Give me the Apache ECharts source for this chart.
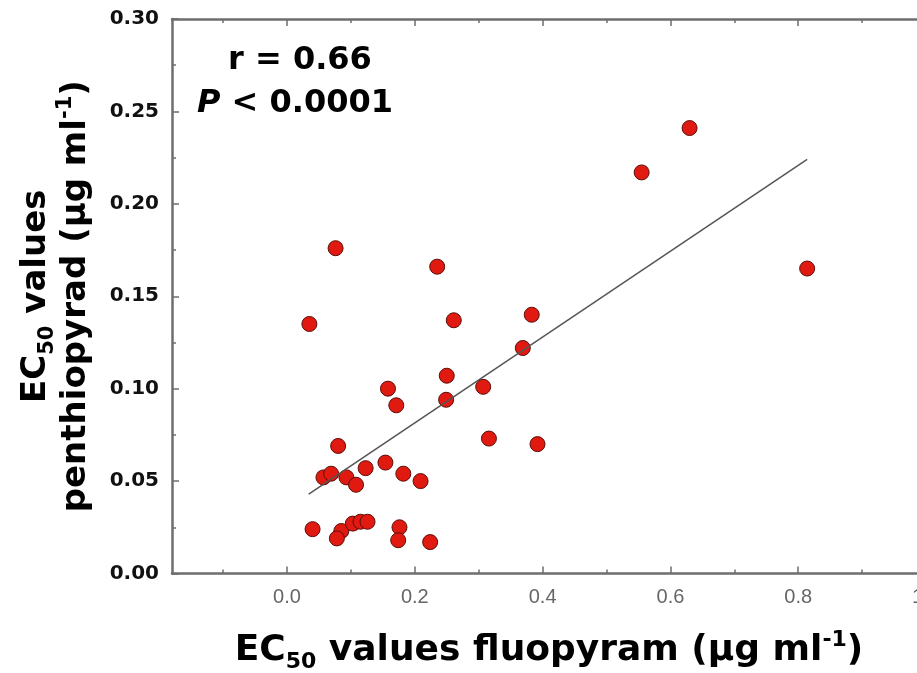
<!DOCTYPE html>
<html>
<head>
<meta charset="utf-8">
<script src="https://cdn.jsdelivr.net/npm/echarts@6/dist/echarts.min.js"></script>
<style>
  html, body { margin: 0; padding: 0; background: #fff; }
  #chart { width: 917px; height: 673px; }
</style>
</head>
<body>
<div id="chart"></div>
<script>
// EC50 values (fluopyram on x, penthiopyrad on y)
const fluopyram = [
  0.076, 0.235, 0.035, 0.261, 0.383, 0.369, 0.250, 0.158, 0.171, 0.307,
  0.249, 0.316, 0.392, 0.080, 0.154, 0.123, 0.057, 0.069, 0.093, 0.108,
  0.182, 0.209, 0.040, 0.085, 0.078, 0.103, 0.115, 0.126, 0.176, 0.174,
  0.224, 0.555, 0.630, 0.814
];
const penthiopyrad = [
  0.176, 0.166, 0.135, 0.137, 0.140, 0.122, 0.107, 0.100, 0.091, 0.101,
  0.094, 0.073, 0.070, 0.069, 0.060, 0.057, 0.052, 0.054, 0.052, 0.048,
  0.054, 0.050, 0.024, 0.023, 0.019, 0.027, 0.028, 0.028, 0.025, 0.018,
  0.017, 0.217, 0.241, 0.165
];
// regression line end points
const fitX = [0.034, 0.814];
const fitY = [0.043, 0.224];

const xMajorTicks = [0, 0.2, 0.4, 0.6, 0.8, 1.0];
const xMinorTicks = [-0.1, 0.1, 0.3, 0.5, 0.7, 0.9];

const points = fluopyram.map((x, i) => [x, penthiopyrad[i]]);
const fitLine = fitX.map((x, i) => [x, fitY[i]]);

const chart = echarts.init(document.getElementById("chart"));

const axisLine = { show: true, onZero: false, lineStyle: { color: "#6e6e6e", width: 2.5 } };
const tickStyle = { color: "#6e6e6e", width: 1.5 };
const boldFont = "DejaVu Sans";

const option = {
  backgroundColor: "#fff",
  animation: false,
  grid: {
    left: 172, right: -9, top: 19, bottom: 99.5,
    containLabel: false, outerBoundsMode: "none"
  },
  xAxis: [
    {
      type: "value", position: "bottom", min: -0.18, max: 1.0,
      axisLine: axisLine,
      axisTick: { show: true, inside: true, length: 7, lineStyle: tickStyle, customValues: xMajorTicks },
      axisLabel: {
        customValues: xMajorTicks, margin: 14,
        formatter: (v) => v.toFixed(1),
        color: "#666", fontSize: 20, fontFamily: "Liberation Sans"
      },
      splitLine: { show: false },
      name: "{b|EC}{sub|50}{b| values fluopyram (µg ml}{sup|-1}{b|)}",
      nameLocation: "middle", nameGap: 54,
      nameTextStyle: {
        rich: {
          b: { fontSize: 36, fontWeight: "bold", fontFamily: boldFont, color: "#000" },
          sub: { fontSize: 22, fontWeight: "bold", fontFamily: boldFont, color: "#000", padding: [24, 0, 0, 0] },
          sup: { fontSize: 22, fontWeight: "bold", fontFamily: boldFont, color: "#000", padding: [0, 0, 20, 0] }
        }
      }
    },
    {
      type: "value", position: "bottom", min: -0.18, max: 1.0,
      axisLine: { show: false, onZero: false },
      axisTick: { show: true, inside: true, length: 4, lineStyle: tickStyle, customValues: xMinorTicks },
      axisLabel: { show: false },
      splitLine: { show: false }
    },
    {
      type: "value", position: "top", min: -0.18, max: 1.0,
      axisLine: axisLine,
      axisTick: { show: true, inside: true, length: 7, lineStyle: tickStyle, customValues: xMajorTicks },
      axisLabel: { show: false },
      splitLine: { show: false }
    },
    {
      type: "value", position: "top", min: -0.18, max: 1.0,
      axisLine: { show: false, onZero: false },
      axisTick: { show: true, inside: true, length: 4, lineStyle: tickStyle, customValues: xMinorTicks },
      axisLabel: { show: false },
      splitLine: { show: false }
    }
  ],
  yAxis: [
    {
      type: "value", position: "left", min: 0, max: 0.3, interval: 0.05,
      axisLine: axisLine,
      axisTick: { show: true, inside: true, length: 7, lineStyle: tickStyle },
      minorTick: { show: true, splitNumber: 2, length: 4, lineStyle: tickStyle },
      axisLabel: {
        margin: 13, formatter: (v) => v.toFixed(2),
        color: "#111", fontSize: 20, fontWeight: "bold", fontFamily: boldFont
      },
      splitLine: { show: false },
      name: "{b|EC}{sub|50}{b| values}\n{b|penthiopyrad (µg ml}{sup|-1}{b|)}",
      nameLocation: "middle", nameGap: 76,
      nameTextStyle: {
        lineHeight: 40,
        rich: {
          b: { fontSize: 34, fontWeight: "bold", fontFamily: boldFont, color: "#000", lineHeight: 40 },
          sub: { fontSize: 21, fontWeight: "bold", fontFamily: boldFont, color: "#000", padding: [24, 0, 0, 0] },
          sup: { fontSize: 21, fontWeight: "bold", fontFamily: boldFont, color: "#000", padding: [0, 0, 20, 0] }
        }
      }
    },
    {
      type: "value", position: "right", min: 0, max: 0.3, interval: 0.05,
      axisLine: axisLine,
      axisTick: { show: true, inside: true, length: 7, lineStyle: tickStyle },
      minorTick: { show: true, splitNumber: 2, length: 4, lineStyle: tickStyle },
      axisLabel: { show: false },
      splitLine: { show: false }
    }
  ],
  graphic: [
    {
      type: "text", left: 228, top: 45,
      style: { text: "r = 0.66", font: "bold 32px 'DejaVu Sans'", fill: "#000" }
    },
    {
      type: "text", left: 197, top: 88,
      style: {
        text: "{i|P}{n| < 0.0001}",
        rich: {
          i: { font: "italic bold 32px 'DejaVu Sans'", fill: "#000" },
          n: { font: "bold 32px 'DejaVu Sans'", fill: "#000" }
        }
      }
    }
  ],
  series: [
    {
      type: "scatter",
      data: points,
      symbolSize: 15,
      itemStyle: { color: "#e01a10", borderColor: "#5c0d08", borderWidth: 1, opacity: 1 },
      z: 2
    },
    {
      type: "line",
      data: fitLine,
      showSymbol: false,
      symbol: "none",
      lineStyle: { color: "#555", width: 1.5 },
      z: 3
    }
  ]
};

chart.setOption(option);
</script>
</body>
</html>
